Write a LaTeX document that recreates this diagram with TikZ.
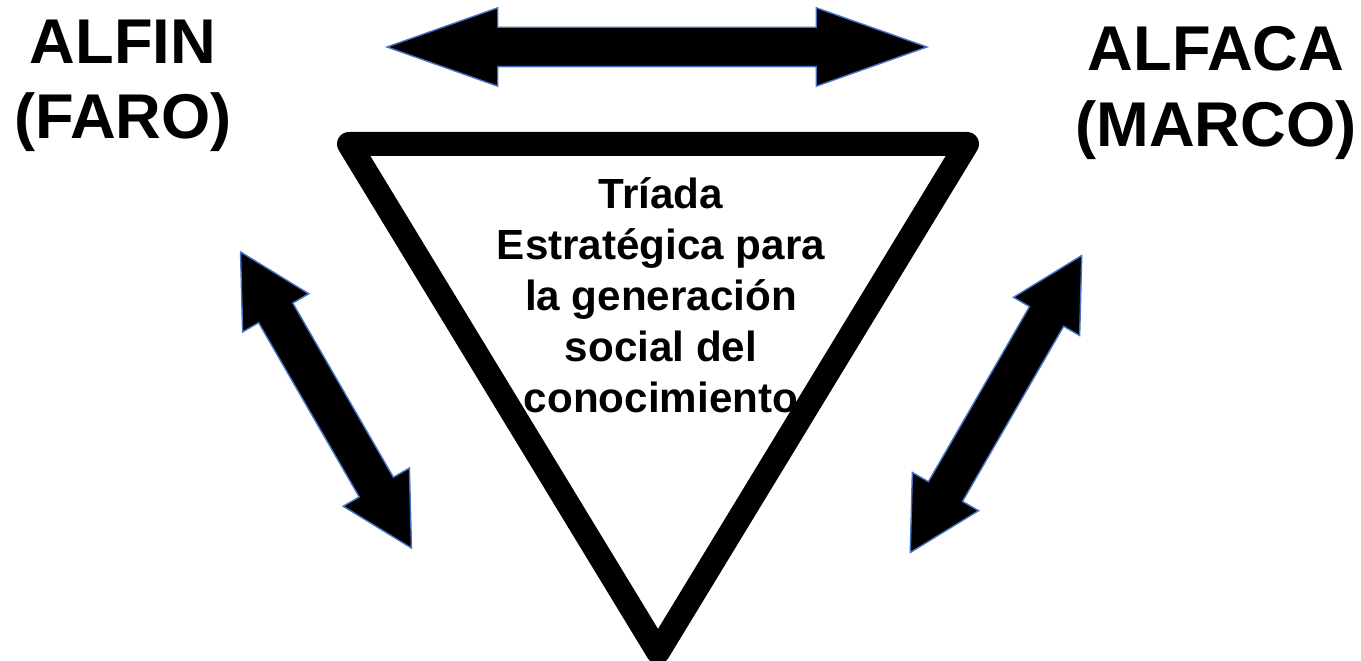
\documentclass[tikz,border=0pt]{standalone}
\usepackage{fontspec}
\setmainfont{Liberation Sans}
\usetikzlibrary{shapes.arrows}
\definecolor{rim}{RGB}{68,114,196}

\begin{document}
\begin{tikzpicture}[x=0.02cm,y=-0.02cm]
\tikzset{bigarrow/.style = {double arrow,draw=rim,line width=0.8pt,fill=black,inner xsep=0pt,inner ysep=0.38cm},
  tag/.style = {font=\fontsize{36}{43}\selectfont\bfseries,align=center,inner sep=0pt},
  core/.style = {font=\fontsize{24}{29}\selectfont\bfseries,align=center,inner sep=0pt}}
\useasboundingbox (0,0) rectangle (1361,661);
% triangle
\coordinate (tl) at (349,144);
\coordinate (tr) at (967,144);
\coordinate (bt) at (658,652);
\draw[line width=0.48cm,line join=round] (tl) -- (tr) -- (bt) -- cycle;
% labels
\node[tag] (alfin) at (123,86) {ALFIN\\(FARO)};
\node[tag] (alfaca) at (1216,93) {ALFACA\\(MARCO)};
\node[core] (triada) at (661,295) {Tríada\\Estratégica para\\la generación\\social del\\conocimiento};
% arrows
\node[bigarrow,minimum height=10.8cm,double arrow head extend=0.39cm,
  double arrow tip angle=39] (top) at (657,47) {};
\node[bigarrow,minimum height=6.84cm,double arrow head extend=0.37cm,
  double arrow tip angle=57,rotate=-60] (left) at (326,400) {};
\node[bigarrow,minimum height=6.86cm,double arrow head extend=0.37cm,
  double arrow tip angle=57,rotate=60] (right) at (996,404) {};
\end{tikzpicture}
\end{document}
